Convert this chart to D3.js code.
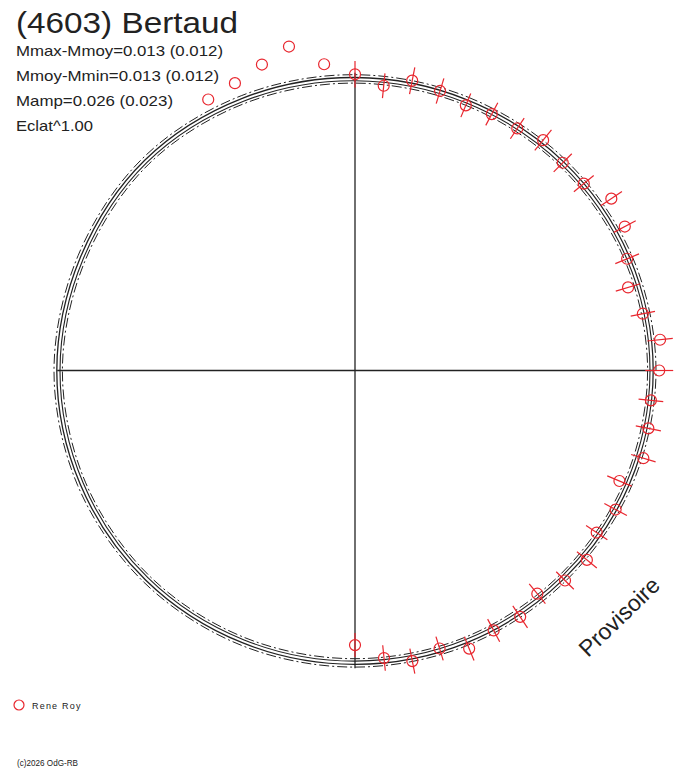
<!DOCTYPE html>
<html>
<head>
<meta charset="utf-8">
<script src="https://cdn.jsdelivr.net/npm/d3@7"></script>
<style>
  body { margin: 0; background: #fff; }
  text { font-family: "Liberation Sans", Arial, sans-serif; fill: #222; }
</style>
</head>
<body>
<div id="chart"></div>
<script>
// phases of the points (rotation fraction, clockwise from top)
var phases = [0.000, 0.016, 0.031, 0.047, 0.063, 0.078, 0.094, 0.109, 0.125, 0.141,
              0.156, 0.172, 0.188, 0.203, 0.219, 0.234, 0.250, 0.266, 0.281, 0.297,
              0.313, 0.328, 0.344, 0.359, 0.375, 0.391, 0.406, 0.422, 0.438, 0.453,
              0.469, 0.484, 0.500];
// brightness offset in mmag (outward = brighter)
var mags = [8, -17, 6, -2, -14, -6, -4, 11, 2, 6,
            39, 32, 3, -19, 1, 34, 28, 11, 15, 21,
            -16, 6, -5, 16, 10, -12, 9, 4, 19, -6,
            8, -10, -46];
var errs = [33, 31, 34, 33, 32, 32, 31, 33, 32, 32,
            32, 31, 32, 32, 31, 32, 35, 31, 32, 32,
            33, 32, 32, 32, 31, 32, 33, 32, 32, 31,
            32, 32, 30];

// points without error bars
var extraPhases = [0.921, 0.937, 0.953, 0.968, 0.984];
var extraMags = [38, 46, 67, 94, 37];

// fitted curves (mmag) every 1/16 of rotation
var curvePhases = [0, 0.0625, 0.125, 0.1875, 0.25, 0.3125, 0.375, 0.4375,
                   0.5, 0.5625, 0.625, 0.6875, 0.75, 0.8125, 0.875, 0.9375];
var fitOuter = [0, 0, 5, 10, 13, 10, 5, 3, 2, 4, 8, 11, 13, 10, 11, 4];
var fitInner = [-8, -8, -3, 2, 5, 2, -3, -5, -6, -4, 0, 3, 5, 2, 3, -4];
var envOuter = [7, 7, 12, 17, 20, 17, 12, 10, 9, 11, 15, 18, 20, 17, 18, 11];
var envInner = [-14, -14, -9, -4, -1, -4, -9, -11, -12, -10, -6, -3, -1, -4, -3, -10];

var infoLines = ["Mmax-Mmoy=0.013 (0.012)", "Mmoy-Mmin=0.013 (0.012)",
                 "Mamp=0.026 (0.023)", "Eclat^1.00"];
var infoWidths = [207, 203, 157, 77];

var width = 688, height = 768;
var cx = 355, cy = 370.5;
var red = "#e8262e";

var svg = d3.select("#chart").append("svg")
    .attr("width", width).attr("height", height);

var rScale = d3.scaleLinear().domain([0, 10]).range([293, 297]);
var aScale = d3.scaleLinear().domain([0, 1]).range([0, 2 * Math.PI]);

var g = svg.append("g").attr("transform", "translate(" + cx + "," + cy + ")");

function px(p, m) { return Math.sin(aScale(p)) * rScale(m); }
function py(p, m) { return -Math.cos(aScale(p)) * rScale(m); }

// axes
var axisR = 12;
g.append("line")
    .attr("x1", 0).attr("y1", py(0, axisR))
    .attr("x2", 0).attr("y2", py(0.5, axisR))
    .attr("stroke", "#222").attr("stroke-width", 1.3);
g.append("line")
    .attr("x1", px(0.75, axisR)).attr("y1", 0)
    .attr("x2", px(0.25, axisR)).attr("y2", 0)
    .attr("stroke", "#222").attr("stroke-width", 1.3);

// curves
var radial = d3.lineRadial()
    .angle(function(d) { return aScale(d[0]); })
    .radius(function(d) { return rScale(d[1]); })
    .curve(d3.curveCardinalClosed.tension(0));

[
  { v: envOuter, dash: "10,3,2,3", w: 1 },
  { v: envInner, dash: "10,3,2,3", w: 1 },
  { v: fitOuter, dash: null, w: 1.3 },
  { v: fitInner, dash: null, w: 1.1 }
].forEach(function(c) {
    g.append("path")
        .attr("d", radial(curvePhases.map(function(p, i) { return [p, c.v[i]]; })))
        .attr("fill", "none")
        .attr("stroke", "#222")
        .attr("stroke-width", c.w)
        .attr("stroke-dasharray", c.dash);
});

// error bars
var pts = phases.map(function(p, i) { return { p: p, m: mags[i], e: errs[i] }; });
g.selectAll("line.err").data(pts).enter().append("line")
    .attr("class", "err")
    .attr("x1", function(d) { return px(d.p, d.m - d.e); })
    .attr("y1", function(d) { return py(d.p, d.m - d.e); })
    .attr("x2", function(d) { return px(d.p, d.m + d.e); })
    .attr("y2", function(d) { return py(d.p, d.m + d.e); })
    .attr("stroke", red).attr("stroke-width", 1.2);

g.selectAll("circle.pt").data(pts).enter().append("circle")
    .attr("class", "pt")
    .attr("cx", function(d) { return px(d.p, d.m); })
    .attr("cy", function(d) { return py(d.p, d.m); })
    .attr("r", 5.5)
    .attr("fill", "none").attr("stroke", red).attr("stroke-width", 1.2);

g.selectAll("circle.extra").data(extraPhases).enter().append("circle")
    .attr("class", "extra")
    .attr("cx", function(d, i) { return px(d, extraMags[i]); })
    .attr("cy", function(d, i) { return py(d, extraMags[i]); })
    .attr("r", 5.5)
    .attr("fill", "none").attr("stroke", red).attr("stroke-width", 1.2);

// texts
svg.append("text").attr("x", 16).attr("y", 33)
    .attr("textLength", 222).attr("lengthAdjust", "spacingAndGlyphs")
    .style("font-size", "29px").text("(4603) Bertaud");

svg.selectAll("text.info").data(infoLines).enter().append("text")
    .attr("class", "info")
    .attr("x", 16).attr("y", function(d, i) { return 56 + i * 25; })
    .attr("textLength", function(d, i) { return infoWidths[i]; })
    .attr("lengthAdjust", "spacingAndGlyphs")
    .style("font-size", "14.5px").text(function(d) { return d; });

svg.append("text")
    .attr("transform", "translate(588,658) rotate(-44)")
    .style("font-size", "23px").text("Provisoire");

// legend
svg.append("circle").attr("cx", 19).attr("cy", 705).attr("r", 5)
    .attr("fill", "none").attr("stroke", red).attr("stroke-width", 1.2);
svg.append("text").attr("x", 32).attr("y", 709)
    .style("font-size", "9px").style("letter-spacing", "1.2px").text("Rene Roy");

svg.append("text").attr("x", 17).attr("y", 766)
    .attr("textLength", 61).attr("lengthAdjust", "spacingAndGlyphs")
    .style("font-size", "8.5px").text("(c)2026 OdG-RB");
</script>
</body>
</html>
